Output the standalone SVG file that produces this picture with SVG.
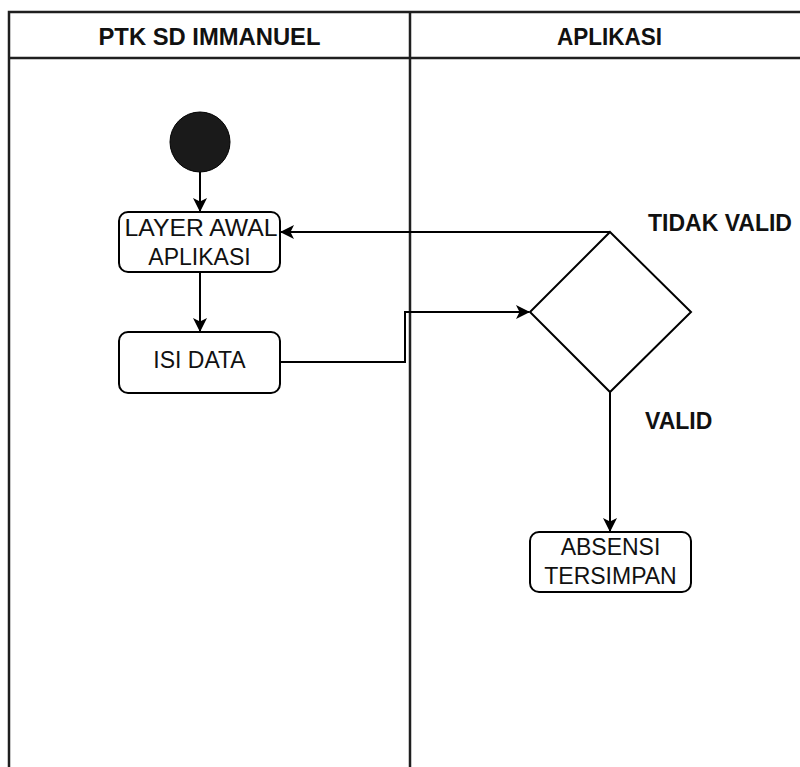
<svg xmlns="http://www.w3.org/2000/svg" width="800" height="767" viewBox="0 0 800 767">
  <style>
    .lane { fill: none; stroke: #1f1f1f; stroke-width: 2.5; }
    .hdr { font-family: "Liberation Sans", Arial, sans-serif; font-weight: bold; font-size: 23px; fill: #111; text-anchor: middle; }
    .node { fill: #fff; stroke: #000; stroke-width: 2; }
    .lbl { font-family: "Liberation Sans", Arial, sans-serif; font-size: 23px; fill: #111; text-anchor: middle; }
    .guard { font-family: "Liberation Sans", Arial, sans-serif; font-weight: bold; font-size: 23px; fill: #111; }
    .edge { fill: none; stroke: #000; stroke-width: 2; }
  </style>
  <defs>
    <marker id="arrow" viewBox="0 0 14 14" refX="13" refY="7" markerWidth="14" markerHeight="14" markerUnits="userSpaceOnUse" orient="auto">
      <path d="M0,0 L14,7 L0,14 L3.5,7 Z" fill="#000"/>
    </marker>
  </defs>
  <rect width="800" height="767" fill="#fff"/>

  <!-- swimlanes -->
  <g id="lanes">
    <path class="lane" d="M9,780 V12 H812 M9,58 H812 M410,12 V780"/>
    <text class="hdr" x="209.5" y="45" textLength="222" lengthAdjust="spacingAndGlyphs">PTK SD IMMANUEL</text>
    <text class="hdr" x="609.5" y="45" textLength="105" lengthAdjust="spacingAndGlyphs">APLIKASI</text>
  </g>

  <!-- connectors -->
  <g id="connectors">
    <line class="edge" x1="200" y1="172" x2="200" y2="211" marker-end="url(#arrow)"/>
    <line class="edge" x1="200" y1="272" x2="200" y2="331" marker-end="url(#arrow)"/>
    <polyline class="edge" points="280,362 405,362 405,312 529,312" marker-end="url(#arrow)"/>
    <polyline class="edge" points="610,232 281,232" marker-end="url(#arrow)"/>
    <line class="edge" x1="610" y1="392" x2="610" y2="531" marker-end="url(#arrow)"/>
  </g>

  <g id="start">
    <circle cx="200" cy="142" r="30" fill="#1a1a1a" stroke="#000" stroke-width="1"/>
  </g>

  <g id="layer-awal">
    <rect class="node" x="119" y="212" width="161" height="60" rx="9"/>
    <text class="lbl" x="201" y="236" textLength="153" lengthAdjust="spacingAndGlyphs">LAYER AWAL</text>
    <text class="lbl" x="199.5" y="265">APLIKASI</text>
  </g>

  <g id="isi-data">
    <rect class="node" x="119" y="332" width="161" height="61" rx="9"/>
    <text class="lbl" x="199.5" y="368">ISI DATA</text>
  </g>

  <g id="decision">
    <polygon class="node" points="610,232 691,312 610,392 530,312"/>
  </g>

  <g id="absensi">
    <rect class="node" x="530" y="532" width="161" height="60" rx="9"/>
    <text class="lbl" x="610.5" y="555">ABSENSI</text>
    <text class="lbl" x="610.5" y="584">TERSIMPAN</text>
  </g>

  <g id="guards">
    <text class="guard" x="648" y="231">TIDAK VALID</text>
    <text class="guard" x="645" y="429">VALID</text>
  </g>
</svg>
